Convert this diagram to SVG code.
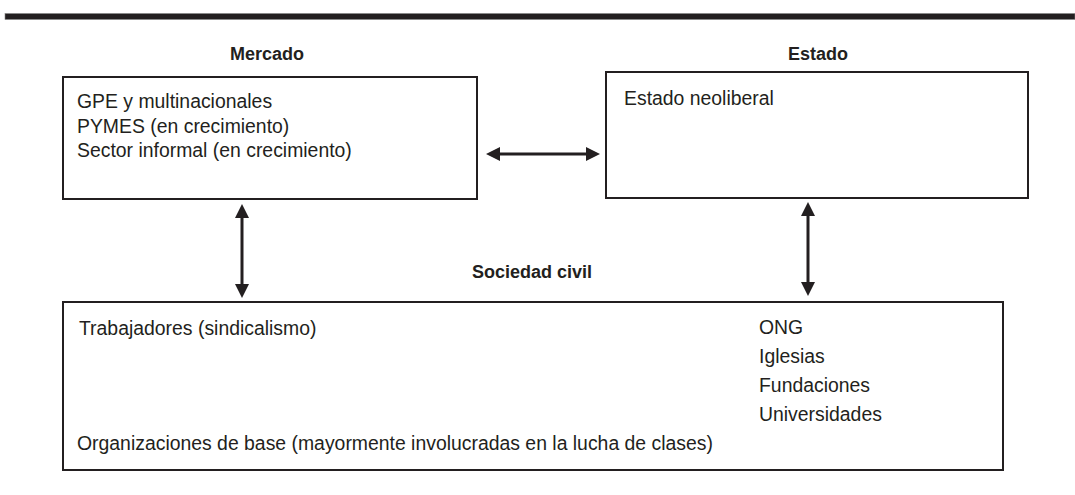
<svg xmlns="http://www.w3.org/2000/svg" width="1075" height="495" viewBox="0 0 1075 495">
<style>
.box{fill:#fff;stroke:#231f20;stroke-width:2}
.t{font-family:"Liberation Sans",Arial,sans-serif;font-size:19.4px;fill:#231f20}
.h{font-family:"Liberation Sans",Arial,sans-serif;font-size:18px;font-weight:bold;fill:#231f20;text-anchor:middle}
.c{stroke:#231f20;stroke-width:3;fill:none;marker-start:url(#ah);marker-end:url(#ah)}
</style>
<defs>
<marker id="ah" viewBox="0 0 14 14" refX="1" refY="7" markerWidth="14" markerHeight="14" markerUnits="userSpaceOnUse" orient="auto-start-reverse">
<path d="M0,0 L14,7 L0,14 z" fill="#231f20"/>
</marker>
</defs>
<rect x="5" y="13.5" width="1070" height="6" fill="#231f20" stroke="#888" stroke-width="0.6"/>
<text class="h" x="267" y="60">Mercado</text>
<text class="h" x="818" y="60">Estado</text>
<text class="h" x="532" y="278">Sociedad civil</text>
<g id="mercado">
<rect class="box" x="63" y="77" width="414" height="122"/>
<text class="t" x="77" y="108">GPE y multinacionales</text>
<text class="t" x="77" y="133">PYMES (en crecimiento)</text>
<text class="t" x="77" y="157">Sector informal (en crecimiento)</text>
</g>
<g id="estado">
<rect class="box" x="606" y="72" width="422" height="126"/>
<text class="t" x="624" y="105">Estado neoliberal</text>
</g>
<g id="sociedad">
<rect class="box" x="63" y="302" width="940" height="168"/>
<text class="t" x="79" y="335">Trabajadores (sindicalismo)</text>
<text class="t" x="77" y="450">Organizaciones de base (mayormente involucradas en la lucha de clases)</text>
<text class="t" x="759" y="334">ONG</text>
<text class="t" x="759" y="363">Iglesias</text>
<text class="t" x="759" y="392">Fundaciones</text>
<text class="t" x="759" y="421">Universidades</text>
</g>
<g id="connectors">
<line class="c" x1="499" y1="154" x2="587" y2="154"/>
<line class="c" x1="242" y1="217" x2="242" y2="285"/>
<line class="c" x1="808" y1="215" x2="808" y2="283"/>
</g>
</svg>
